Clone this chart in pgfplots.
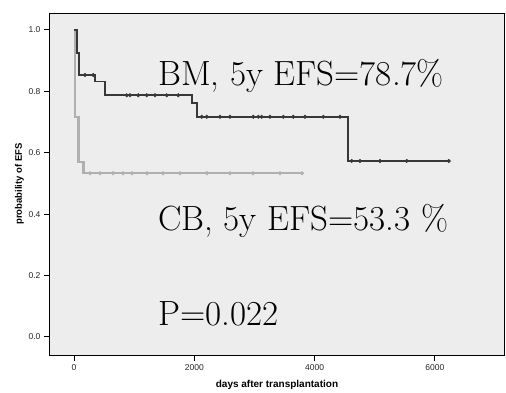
\documentclass[border=0pt]{standalone}
\usepackage{pgfplots}
\pgfplotsset{compat=1.18}
\usepackage{fontspec}
\setmainfont{Latin Modern Roman}
\newfontfamily\lsans{Liberation Sans}
\definecolor{bmcol}{HTML}{383838}
\definecolor{cbcol}{HTML}{B0B0B0}
\begin{document}
\begin{tikzpicture}
\begin{axis}[
  at={(0,0)}, anchor=south west,
  scale only axis, width=454pt, height=342pt,
  xmin=-399, xmax=7149, ymin=-0.059, ymax=1.055,
  xtick={0,2000,4000,6000},
  ytick={0,0.2,0.4,0.6,0.8,1.0},
  yticklabels={0.0,0.2,0.4,0.6,0.8,1.0},
  xticklabels={0,2000,4000,6000},
  tick align=outside, tick pos=left,
  major tick length=6pt,
  tick style={black, line width=0.8pt},
  axis line style={black, line width=1pt},
  axis background/.style={fill=black!7},
  ticklabel style={font=\lsans\fontsize{8.5}{10}\selectfont, text=black!85},
  xlabel={\lsans\bfseries\fontsize{10}{12}\selectfont days after transplantation},
  ylabel={\lsans\bfseries\fontsize{9.5}{11}\selectfont probability of EFS},
  xlabel style={yshift=-3pt},
  ylabel style={yshift=-2pt},
  clip=false,
]
% CB curve
\addplot[const plot, color=cbcol, line width=2.4pt] coordinates {
 (0,1.0) (17,0.717) (72,0.570) (155,0.533) (3800,0.533)};
\addplot[only marks, mark=*, mark size=1.8pt, color=cbcol] coordinates {
 (266,0.533) (432,0.533) (648,0.533) (815,0.533) (964,0.533) (1214,0.533)
 (1480,0.533) (1762,0.533) (2211,0.533) (2594,0.533) (2976,0.533) (3425,0.533) (3790,0.533)};
% BM curve
\addplot[const plot, color=bmcol, line width=1.8pt] coordinates {
 (0,1.0) (45,0.924) (88,0.853) (350,0.832) (520,0.787) (1960,0.762)
 (2040,0.717) (4560,0.573) (6230,0.573)};
\addplot[only marks, mark=*, mark size=1.8pt, color=bmcol] coordinates {
 (183,0.853) (321,0.853)
 (876,0.787) (931,0.787) (1069,0.787) (1209,0.787) (1347,0.787) (1541,0.787) (1734,0.787)
 (2123,0.717) (2206,0.717) (2427,0.717) (2594,0.717) (2981,0.717) (3065,0.717)
 (3120,0.717) (3259,0.717) (3480,0.717) (3646,0.717) (3840,0.717) (4145,0.717) (4422,0.717)
 (4616,0.573) (4755,0.573) (5087,0.573) (5531,0.573) (6230,0.573)};
\end{axis}
\node[anchor=base west, inner sep=0pt, font=\fontsize{35}{40}\selectfont] at (108pt,270pt) {BM, 5y EFS=78.7\%};
\node[anchor=base west, inner sep=0pt, font=\fontsize{35}{40}\selectfont] at (108pt,125pt) {CB, 5y EFS=53.3 \%};
\node[anchor=base west, inner sep=0pt, font=\fontsize{35}{40}\selectfont] at (108pt,30pt) {P=0.022};
\pgfresetboundingbox
\path (-50pt,-37pt) rectangle (456pt,355pt);
\end{tikzpicture}
\end{document}
